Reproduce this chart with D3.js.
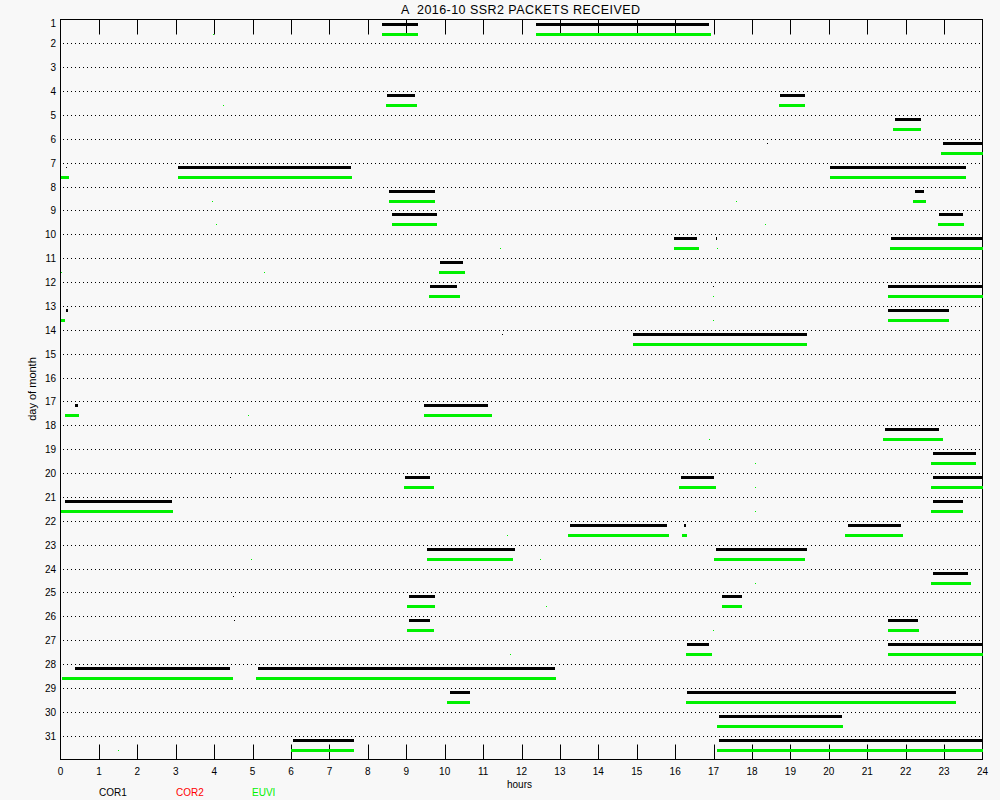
<!DOCTYPE html>
<html>
<head>
<meta charset="utf-8">
<script src="https://cdn.jsdelivr.net/npm/d3@7"></script>
<style>
  html, body { margin: 0; padding: 0; background: #f8f8f8; }
  svg { display: block; }
  text { font-family: "Liberation Sans", Arial, sans-serif; }
</style>
</head>
<body>
<svg id="chart" width="1000" height="800"></svg>
<script>
// ---------------- DATA ----------------
const titleText = "A  2016-10 SSR2 PACKETS RECEIVED";
const days = d3.range(1, 32);                 // 1..31
const hourLabels = d3.range(0, 25);           // 0..24
const innerTickHours = d3.range(1, 24);       // 1..23
const legendLabels = ["COR1", "COR2", "EUVI"];
const legendColors = ["#000000", "#ff0000", "#00f000"];

// COR1 segments: [day, startHour, endHour]
const cor1Segments = [
  [1, 8.38, 9.31], [1, 12.39, 16.89],
  [4, 8.49, 9.24], [4, 18.72, 19.39],
  [5, 21.71, 22.39],
  [6, 22.98, 24],
  [7, 3.05, 7.55], [7, 20.04, 23.56],
  [8, 8.56, 9.74], [8, 22.23, 22.49],
  [9, 8.64, 9.81], [9, 22.88, 23.48],
  [10, 15.98, 16.58], [10, 17.05, 17.08], [10, 21.63, 24],
  [11, 9.89, 10.49],
  [12, 9.63, 10.33], [12, 21.55, 24],
  [13, 0.14, 0.19], [13, 21.55, 23.14],
  [14, 14.89, 19.42],
  [17, 0.39, 0.45], [17, 9.47, 11.14],
  [18, 21.47, 22.88],
  [19, 22.72, 23.82],
  [20, 8.98, 9.63], [20, 16.14, 17.0], [20, 22.72, 24],
  [21, 0.13, 2.89], [21, 22.72, 23.48],
  [22, 13.25, 15.80], [22, 16.22, 16.29], [22, 20.49, 21.89],
  [23, 9.55, 11.82], [23, 17.05, 19.42],
  [24, 22.72, 23.63],
  [25, 9.06, 9.74], [25, 17.23, 17.73],
  [26, 9.06, 9.63], [26, 21.55, 22.31],
  [27, 16.32, 16.89], [27, 21.55, 24],
  [28, 0.39, 4.40], [28, 5.15, 12.88],
  [29, 10.13, 10.65], [29, 16.32, 23.32],
  [30, 17.13, 20.33],
  [31, 6.04, 7.65], [31, 17.13, 24]
];
// COR1 isolated single samples: [day, hour]
const cor1Dots = [
  [6, 18.38], [7, 0.14], [12, 16.98], [14, 11.50],
  [20, 4.41], [25, 4.49], [26, 4.51]
];

// EUVI segments: [day, startHour, endHour]
const euviSegments = [
  [1, 8.36, 9.31], [1, 12.39, 16.92],
  [4, 8.46, 9.29], [4, 18.69, 19.39],
  [5, 21.68, 22.39],
  [6, 22.93, 24],
  [7, 0, 0.21], [7, 3.05, 7.60], [7, 20.02, 23.56],
  [8, 8.54, 9.74], [8, 22.20, 22.54],
  [9, 8.62, 9.79], [9, 22.83, 23.51],
  [10, 15.96, 16.61], [10, 21.60, 24],
  [11, 9.84, 10.54],
  [12, 9.58, 10.39], [12, 21.53, 24],
  [13, 0, 0.13], [13, 21.53, 23.14],
  [14, 14.89, 19.42],
  [17, 0.13, 0.47], [17, 9.45, 11.24],
  [18, 21.42, 22.96],
  [19, 22.67, 23.84],
  [20, 8.95, 9.71], [20, 16.11, 17.05], [20, 22.67, 24],
  [21, 0, 2.92], [21, 22.67, 23.48],
  [22, 13.22, 15.85], [22, 16.19, 16.32], [22, 20.41, 21.94],
  [23, 9.53, 11.79], [23, 17.0, 19.39],
  [24, 22.67, 23.71],
  [25, 9.03, 9.76], [25, 17.23, 17.73],
  [26, 9.03, 9.71], [26, 21.53, 22.36],
  [27, 16.29, 16.97], [27, 21.53, 24],
  [28, 0.03, 4.48], [28, 5.08, 12.91],
  [29, 10.07, 10.67], [29, 16.27, 23.32],
  [30, 17.08, 20.38],
  [31, 6.01, 7.65], [31, 17.08, 24]
];
// EUVI isolated single samples: [day, hour]
const euviDots = [
  [1, 3.96], [4, 4.22], [8, 3.94], [8, 17.58], [9, 4.04], [9, 18.33],
  [10, 17.08], [10, 11.43], [11, 0.0], [11, 5.29], [12, 16.98], [13, 16.98],
  [17, 4.88], [18, 16.88], [19, 18.07], [20, 18.07], [21, 18.07],
  [22, 11.61], [23, 4.95], [23, 12.49], [24, 18.07], [25, 12.65],
  [26, 16.98], [27, 11.69], [31, 1.49]
];

// ---------------- DRAW ----------------
(function () {
const svg = d3.select("#chart");
const W = 1000, H = 800;
const pLeft = 60.5, pRight = 982.5, pTop = 19.5, pBottom = 759.5;

svg.append("rect").attr("width", W).attr("height", H).attr("fill", "#f8f8f8");

const x = d3.scaleLinear().domain([0, 24]).range([pLeft, pRight]);
const y = d3.scaleLinear().domain([1, 32]).range([pTop, pBottom]);
const rowY = d => Math.round(y(d));

// dotted day grid lines (day 2..31)
svg.append("g").selectAll("line")
  .data(days.filter(d => d > 1))
  .join("line")
  .attr("x1", 63).attr("x2", 980)
  .attr("y1", d => rowY(d) + 0.5).attr("y2", d => rowY(d) + 0.5)
  .attr("stroke", "#000").attr("stroke-width", 1)
  .attr("stroke-dasharray", "1,3");

// frame
svg.append("rect")
  .attr("x", pLeft).attr("y", pTop)
  .attr("width", pRight - pLeft).attr("height", pBottom - pTop)
  .attr("fill", "none").attr("stroke", "#000").attr("stroke-width", 1);

// inner ticks top and bottom
const tg = svg.append("g").attr("stroke", "#000").attr("stroke-width", 1);
tg.selectAll("line.t").data(innerTickHours).join("line").attr("class", "t")
  .attr("x1", h => Math.round(x(h)) + 0.5).attr("x2", h => Math.round(x(h)) + 0.5)
  .attr("y1", pTop).attr("y2", pTop + 15);
tg.selectAll("line.b").data(innerTickHours).join("line").attr("class", "b")
  .attr("x1", h => Math.round(x(h)) + 0.5).attr("x2", h => Math.round(x(h)) + 0.5)
  .attr("y1", pBottom - 15).attr("y2", pBottom);

// bars
function drawSegs(data, color, offset) {
  svg.append("g").selectAll("rect")
    .data(data).join("rect")
    .attr("x", d => Math.round(x(d[1])))
    .attr("width", d => Math.max(1, Math.round(x(d[2])) - Math.round(x(d[1]))))
    .attr("y", d => rowY(d[0]) + offset)
    .attr("height", 3)
    .attr("fill", color)
    .attr("shape-rendering", "crispEdges");
}
function drawDots(data, color, offset) {
  svg.append("g").selectAll("rect")
    .data(data).join("rect")
    .attr("x", d => Math.round(x(d[1])))
    .attr("width", 1)
    .attr("y", d => rowY(d[0]) + offset + 1)
    .attr("height", 1)
    .attr("fill", color)
    .attr("shape-rendering", "crispEdges");
}
drawSegs(cor1Segments, legendColors[0], 3);
drawSegs(euviSegments, legendColors[2], 13);
drawDots(cor1Dots, legendColors[0], 3);
drawDots(euviDots, legendColors[2], 13);

// y labels
svg.append("g").selectAll("text")
  .data(days).join("text")
  .attr("x", 56)
  .attr("y", d => rowY(d) + (d === 1 ? 7 : 4))
  .attr("text-anchor", "end")
  .attr("font-size", 10)
  .attr("fill", "#000")
  .text(d => d);

// x labels
svg.append("g").selectAll("text")
  .data(hourLabels).join("text")
  .attr("x", h => x(h))
  .attr("y", 775)
  .attr("text-anchor", "middle")
  .attr("font-size", 10)
  .attr("fill", "#000")
  .text(h => h);

// axis titles
svg.append("text").attr("x", 507).attr("y", 788)
  .attr("font-size", 10).attr("fill", "#000").text("hours");
svg.append("text")
  .attr("transform", "translate(36,389) rotate(-90)")
  .attr("text-anchor", "middle")
  .attr("font-size", 11).attr("fill", "#000").text("day of month");

// title
svg.append("text").attr("x", 401).attr("y", 14)
  .attr("font-size", 12.5).attr("fill", "#000")
  .attr("textLength", 239).attr("lengthAdjust", "spacing")
  .style("white-space", "pre")
  .text(titleText);

// legend
const legendX = [99, 176, 252];
svg.append("g").selectAll("text")
  .data(legendLabels).join("text")
  .attr("x", (d, i) => legendX[i])
  .attr("y", 796)
  .attr("font-size", 10)
  .attr("fill", (d, i) => legendColors[i])
  .text(d => d);
})();
</script>
</body>
</html>
